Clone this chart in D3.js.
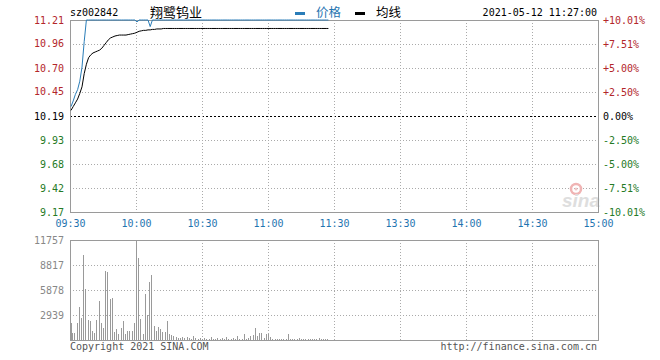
<!DOCTYPE html>
<html>
<head>
<meta charset="utf-8">
<script src="https://cdn.jsdelivr.net/npm/d3@7"></script>
<style>
body { margin: 0; background: #fff; }
text { font-family: "DejaVu Sans Mono", monospace; font-size: 10px; }
.cjk { font-family: "Noto Sans CJK SC", sans-serif; }
</style>
</head>
<body>
<div id="chart"></div>
<script>
const code = "sz002842";
const stockName = "翔鹭钨业";
const stamp = "2021-05-12 11:27:00";

const timeTicks = [0, 30, 60, 90, 120, 150, 180, 210, 240];
const timeLabels = ["09:30", "10:00", "10:30", "11:00", "11:30", "13:30", "14:00", "14:30", "15:00"];
const prevClose = 10.19;
const priceTicks = [11.21, 10.96, 10.70, 10.45, 10.19, 9.93, 9.68, 9.42, 9.17];
const pctTicks = [10.01, 7.51, 5.00, 2.50, 0.00, -2.50, -5.00, -7.51, -10.01];
const volTicks = [11757, 8817, 5878, 2939];

// one value per minute, 09:30 .. 11:27
const price = [10.29, 10.35, 10.42, 10.47, 10.56, 10.71, 10.98,
  11.21, 11.21, 11.21, 11.21, 11.21, 11.21, 11.21, 11.21, 11.21, 11.21, 11.21, 11.21,
  11.21, 11.21, 11.21, 11.21, 11.21, 11.21, 11.21, 11.21, 11.21, 11.21, 11.21,
  11.19, 11.21, 11.21, 11.21, 11.21, 11.21, 11.14,
  11.21, 11.21, 11.21, 11.21, 11.21, 11.21, 11.21, 11.21, 11.21, 11.21, 11.21, 11.21,
  11.21, 11.21, 11.21, 11.21, 11.21, 11.21, 11.21, 11.21, 11.21, 11.21, 11.21, 11.21,
  11.21, 11.21, 11.21, 11.21, 11.21, 11.21, 11.21, 11.21, 11.21, 11.21, 11.21, 11.21,
  11.21, 11.21, 11.21, 11.21, 11.21, 11.21, 11.21, 11.21, 11.21, 11.21, 11.21, 11.21,
  11.21, 11.21, 11.21, 11.21, 11.21, 11.21, 11.21, 11.21, 11.21, 11.21, 11.21, 11.21,
  11.21, 11.21, 11.21, 11.21, 11.21, 11.21, 11.21, 11.21, 11.21, 11.21, 11.21, 11.21,
  11.21, 11.21, 11.21, 11.21, 11.21, 11.21, 11.21, 11.21, 11.21];

const avgPrice = [10.25, 10.29, 10.33, 10.37, 10.43, 10.50, 10.64, 10.74, 10.81, 10.84,
  10.86, 10.87, 10.88, 10.89, 10.91, 10.94, 10.97, 11.00, 11.02, 11.03,
  11.04, 11.045, 11.05, 11.05, 11.05, 11.05, 11.055, 11.06, 11.065, 11.07,
  11.08, 11.09, 11.095, 11.10, 11.10, 11.105, 11.105, 11.11, 11.11, 11.115,
  11.115, 11.115, 11.12, 11.12, 11.12, 11.12, 11.12, 11.12, 11.12, 11.12,
  11.12, 11.12, 11.12, 11.12, 11.12, 11.12, 11.12, 11.12, 11.12, 11.12,
  11.12, 11.12, 11.12, 11.12, 11.12, 11.12, 11.12, 11.12, 11.12, 11.12,
  11.12, 11.12, 11.12, 11.12, 11.12, 11.12, 11.12, 11.12, 11.12, 11.12,
  11.12, 11.12, 11.12, 11.12, 11.12, 11.12, 11.12, 11.12, 11.12, 11.12,
  11.12, 11.12, 11.12, 11.12, 11.12, 11.12, 11.12, 11.12, 11.12, 11.12,
  11.12, 11.12, 11.12, 11.12, 11.12, 11.12, 11.12, 11.12, 11.12, 11.12,
  11.12, 11.12, 11.12, 11.12, 11.12, 11.12, 11.12, 11.12];

const volume = [1960, 790, 790, 1960, 3880, 2550, 9990, 6030, 2350, 2200,
  1060, 790, 2350, 4590, 1960, 1370, 8110, 7990, 4860, 4940,
  940, 1260, 750, 1410, 2230, 700, 1060, 1060, 1060, 1960,
  11757, 9640, 2430, 700, 5370, 2940, 6820, 7600, 1650, 1000,
  1560, 1290, 980, 980, 2270, 700, 550, 470, 310, 200,
  200, 350, 200, 310, 200, 100, 470, 200, 150, 200,
  150, 200, 100, 150, 300, 100, 150, 200, 100, 250,
  150, 350, 100, 150, 200, 100, 470, 150, 150, 740,
  150, 270, 470, 550, 1410, 470, 790, 860, 270, 740,
  740, 300, 100, 150, 100, 150, 100, 150, 100, 740,
  150, 100, 150, 100, 200, 100, 150, 100, 100, 150,
  100, 150, 100, 200, 100, 150, 100, 150];

const left = 70, right = 598;
const pTop = 20, pBottom = 212;
const vTop = 240, vBottom = 340;
const red = "#b3262a", green = "#257a25", blue = "#1f74b0", grey = "#9a9a9a";

const svg = d3.select("#chart").append("svg")
  .attr("width", 660).attr("height", 360)
  .style("background", "#fff");

const x = d3.scaleLinear().domain([0, 240]).range([left, right]);
const py = d3.scaleLinear().domain([priceTicks[8], priceTicks[0]]).range([pBottom, pTop]);
const pct = d3.scaleLinear().domain([pctTicks[8], pctTicks[0]]).range([pBottom, pTop]);
const vy = d3.scaleLinear().domain([0, volTicks[0]]).range([vBottom, vTop]);

const crisp = v => Math.round(v) + 0.5;
const tone = v => v > prevClose + 1e-6 ? red : (v < prevClose - 1e-6 ? green : "#000");

// grid
const grid = svg.append("g").attr("shape-rendering", "crispEdges");
grid.selectAll(".hp").data(priceTicks.slice(1, 8)).enter().append("line")
  .attr("x1", left).attr("x2", right)
  .attr("y1", d => crisp(py(d))).attr("y2", d => crisp(py(d)))
  .attr("stroke", d => d === prevClose ? "#000" : "#aaa")
  .attr("stroke-dasharray", d => d === prevClose ? "2,2" : "1,2");
grid.selectAll(".vp").data(timeTicks.slice(1, 8)).enter().append("line")
  .attr("x1", d => crisp(x(d))).attr("x2", d => crisp(x(d)))
  .attr("y1", pTop).attr("y2", pBottom)
  .attr("stroke", "#aaa").attr("stroke-dasharray", "1,2");
grid.selectAll(".hv").data(volTicks.slice(1)).enter().append("line")
  .attr("x1", left).attr("x2", right)
  .attr("y1", d => crisp(vy(d))).attr("y2", d => crisp(vy(d)))
  .attr("stroke", "#aaa").attr("stroke-dasharray", "1,2");
grid.selectAll(".vv").data(timeTicks.slice(1, 8)).enter().append("line")
  .attr("x1", d => crisp(x(d))).attr("x2", d => crisp(x(d)))
  .attr("y1", vTop).attr("y2", vBottom)
  .attr("stroke", "#aaa").attr("stroke-dasharray", "1,2");

// sina watermark
svg.append("circle").attr("cx", 576).attr("cy", 189).attr("r", 5)
  .attr("fill", "none").attr("stroke", "#f0b4b4").attr("stroke-width", 2.5);
svg.append("circle").attr("cx", 576).attr("cy", 189).attr("r", 1.5).attr("fill", "#f0c8c8");
svg.append("text").attr("x", 562).attr("y", 207).text("sina")
  .style("font-family", "Liberation Sans, sans-serif").style("font-size", "19px")
  .style("font-style", "italic").style("font-weight", "bold").attr("fill", "#dedede");

// volume bars
svg.append("g").attr("shape-rendering", "crispEdges")
  .selectAll("rect").data(volume).enter().append("rect")
  .attr("x", (d, i) => Math.max(left + 1, Math.round(x(i))))
  .attr("width", 1)
  .attr("y", d => vy(d))
  .attr("height", d => vBottom - vy(d))
  .attr("fill", grey);

// frames
svg.append("rect").attr("x", left + 0.5).attr("y", pTop + 0.5)
  .attr("width", right - left).attr("height", pBottom - pTop)
  .attr("fill", "none").attr("stroke", grey).attr("shape-rendering", "crispEdges");
svg.append("rect").attr("x", left + 0.5).attr("y", vTop + 0.5)
  .attr("width", right - left).attr("height", vBottom - vTop)
  .attr("fill", "none").attr("stroke", grey).attr("shape-rendering", "crispEdges");

// lines
const line = d3.line().x((d, i) => x(i) + 1).y(d => py(d));
svg.append("path").datum(avgPrice).attr("d", line)
  .attr("fill", "none").attr("stroke", "#000").attr("stroke-width", 1);
svg.append("path").datum(price).attr("d", line)
  .attr("fill", "none").attr("stroke", "#2a7db8").attr("stroke-width", 1);

// axes
const leftAxis = svg.append("g").attr("transform", `translate(${left},0)`)
  .call(d3.axisLeft(py).tickValues(priceTicks).tickFormat(d3.format(".2f")).tickSize(0).tickPadding(6));
leftAxis.select(".domain").remove();
leftAxis.selectAll("text").attr("fill", d => tone(d)).attr("font-family", null).attr("font-size", null);

const rightAxis = svg.append("g").attr("transform", `translate(${right},0)`)
  .call(d3.axisRight(pct).tickValues(pctTicks)
    .tickFormat(d => (d > 0 ? "+" : "") + d.toFixed(2) + "%").tickSize(0).tickPadding(5));
rightAxis.select(".domain").remove();
rightAxis.selectAll("text").attr("fill", d => d > 0 ? red : (d < 0 ? green : "#000"))
  .attr("font-family", null).attr("font-size", null);

const timeAxis = svg.append("g").attr("transform", `translate(0,${pBottom})`)
  .call(d3.axisBottom(x).tickValues(timeTicks).tickFormat((d, i) => timeLabels[i]).tickSize(0).tickPadding(8));
timeAxis.select(".domain").remove();
timeAxis.selectAll("text").attr("fill", blue).attr("font-family", null).attr("font-size", null);

const volAxis = svg.append("g").attr("transform", `translate(${left},0)`)
  .call(d3.axisLeft(vy).tickValues(volTicks).tickFormat(d3.format("d")).tickSize(0).tickPadding(6));
volAxis.select(".domain").remove();
volAxis.selectAll("text").attr("fill", "#888").attr("font-family", null).attr("font-size", null);

// header
svg.append("text").attr("x", 70).attr("y", 16).text(code).attr("fill", "#000");
svg.append("text").attr("class", "cjk").attr("x", 150).attr("y", 17).text(stockName)
  .style("font-size", "13px").attr("fill", "#000");
svg.append("rect").attr("x", 295).attr("y", 12).attr("width", 10).attr("height", 3).attr("fill", "#2a7db8");
svg.append("text").attr("class", "cjk").attr("x", 316).attr("y", 17).text("价格")
  .style("font-size", "12.5px").attr("fill", blue);
svg.append("rect").attr("x", 355).attr("y", 12).attr("width", 10).attr("height", 3).attr("fill", "#000");
svg.append("text").attr("class", "cjk").attr("x", 376).attr("y", 17).text("均线")
  .style("font-size", "12.5px").attr("fill", "#000");
svg.append("text").attr("x", 597).attr("y", 16).attr("text-anchor", "end").text(stamp).attr("fill", "#000");

// footer
svg.append("text").attr("x", 70).attr("y", 350).text("Copyright 2021 SINA.COM").attr("fill", "#555");
svg.append("text").attr("x", 597).attr("y", 350).attr("text-anchor", "end")
  .text("http://finance.sina.com.cn").attr("fill", "#555");
</script>
</body>
</html>
